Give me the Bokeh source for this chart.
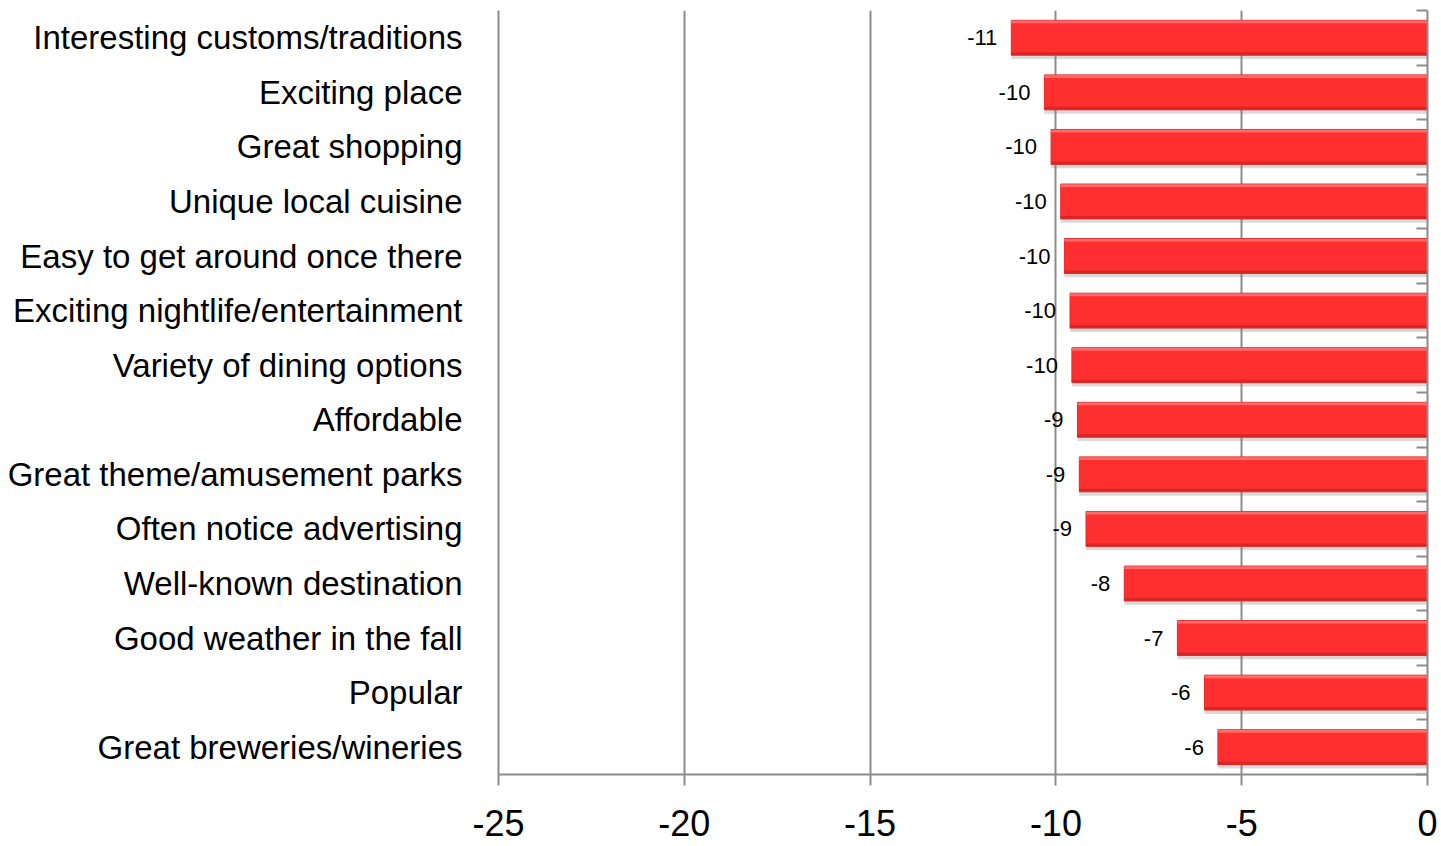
from bokeh.plotting import figure
from bokeh.models import Range1d, FixedTicker, LinearAxis, ColumnDataSource
from bokeh.core.properties import value
from bokeh.embed import file_html
from bokeh.resources import INLINE

categories = [
    "Interesting customs/traditions",
    "Exciting place",
    "Great shopping",
    "Unique local cuisine",
    "Easy to get around once there",
    "Exciting nightlife/entertainment",
    "Variety of dining options",
    "Affordable",
    "Great theme/amusement parks",
    "Often notice advertising",
    "Well-known destination",
    "Good weather in the fall",
    "Popular",
    "Great breweries/wineries",
]
values = [-11.20, -10.31, -10.13, -9.87, -9.77, -9.62, -9.57,
          -9.42, -9.37, -9.19, -8.16, -6.73, -6.00, -5.64]
labels = [str(int(round(v))) for v in values]
x_ticks = [-25, -20, -15, -10, -5, 0]
x_tick_labels = ["-25", "-20", "-15", "-10", "-5", "0"]

n = len(categories)
ypos = [n - 1 - i for i in range(n)]

src = ColumnDataSource(dict(
    y=ypos,
    v=values,
    zero=[0] * n,
    lab=labels,
    ysh=[y - 0.07 for y in ypos],
    ytop=[y + 0.29 for y in ypos],
    ybot=[y - 0.29 for y in ypos],
))

p = figure(width=1441, height=846, output_backend="svg", toolbar_location=None,
           x_range=Range1d(-25, 0), y_range=Range1d(-0.5, n - 0.5),
           min_border_left=498, min_border_right=14, min_border_top=10,
           min_border_bottom=72, y_axis_location=None)
p.outline_line_color = None
p.background_fill_color = "white"
p.border_fill_color = "white"

# grid
p.xgrid.ticker = FixedTicker(ticks=x_ticks)
p.xgrid.grid_line_color = "#8c8c8c"
p.xgrid.grid_line_width = 2
p.ygrid.grid_line_color = None

# bottom axis
xa = p.xaxis[0]
xa.ticker = FixedTicker(ticks=x_ticks)
xa.major_label_overrides = {t: s for t, s in zip(x_ticks, x_tick_labels)}
xa.axis_line_color = "#8c8c8c"
xa.axis_line_width = 2
xa.major_tick_line_color = "#8c8c8c"
xa.major_tick_line_width = 2
xa.major_tick_out = 11
xa.major_tick_in = 0
xa.minor_tick_line_color = None
xa.major_label_text_font = "Liberation Sans"
xa.major_label_text_font_size = "36px"
xa.major_label_text_color = "black"
xa.major_label_standoff = 24

# left category axis
la = LinearAxis(ticker=FixedTicker(ticks=ypos),
                major_label_overrides={y: c for y, c in zip(ypos, categories)})
la.axis_line_color = "#8c8c8c"
la.axis_line_width = 2
la.major_tick_line_color = None
la.minor_tick_line_color = None
la.major_tick_out = 0
la.major_tick_in = 0
la.major_label_text_font = "Liberation Sans"
la.major_label_text_font_size = "33px"
la.major_label_text_color = "black"
la.major_label_standoff = 36
p.add_layout(la, "left")

# right axis at zero with boundary ticks
rticks = [i - 0.5 for i in range(n + 1)]
ra = LinearAxis(ticker=FixedTicker(ticks=rticks),
                major_label_overrides={t: "" for t in rticks})
ra.axis_line_color = "#8c8c8c"
ra.axis_line_width = 2
ra.major_tick_line_color = "#8c8c8c"
ra.major_tick_line_width = 2
ra.major_tick_in = 11
ra.major_tick_out = 0
ra.minor_tick_line_color = None
ra.major_label_standoff = 0
p.add_layout(ra, "right")

# shadow
p.hbar(y="ysh", left="v", right="zero", height=0.64, source=src,
       fill_color="#7a7a7a", fill_alpha=0.28, line_color=None)
# main bar
p.hbar(y="y", left="v", right="zero", height=0.64, source=src,
       fill_color="#ff2f2f", line_color="#e62a2a", line_width=1)
# highlight & darker edge
p.hbar(y="ytop", left="v", right="zero", height=0.05, source=src,
       fill_color="#ff6b6b", line_color=None)
p.hbar(y="ybot", left="v", right="zero", height=0.05, source=src,
       fill_color="#d82626", line_color=None)

# value labels
p.text(x="v", y="y", text="lab", source=src, x_offset=-14,
       text_align="right", text_baseline="middle",
       text_font=value("Liberation Sans"), text_font_size="22px",
       text_color="black")

open("out.html", "w").write(file_html(p, INLINE))
